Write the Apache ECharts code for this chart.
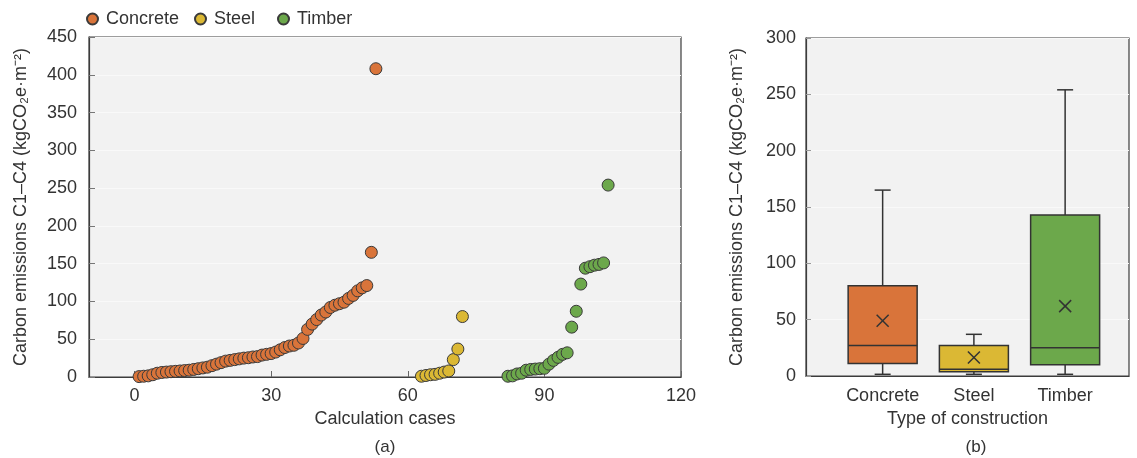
<!DOCTYPE html>
<html>
<head>
<meta charset="utf-8">
<script src="https://cdn.jsdelivr.net/npm/echarts@6/dist/echarts.min.js"></script>
<style>
html,body{margin:0;padding:0;background:#fff;}
#main{width:1137px;height:458px;}
</style>
</head>
<body>
<div id="main"></div>
<script>
// ---- Data ----
const seriesNames = ['Concrete', 'Steel', 'Timber'];

const concreteCases = [1,2,3,4,5,6,7,8,9,10,11,12,13,14,15,16,17,18,19,20,21,22,23,24,25,26,27,28,29,30,31,32,33,34,35,36,37,38,39,40,41,42,43,44,45,46,47,48,49,50,51,52,53];
const concreteValues = [0.5,1,1.5,3,5,6,6.5,7,7.5,8,8.5,9,10,11,12,13,15,17,19,21,22,23,24,25,25.5,26.5,27,29,30,31,33,36,39,41,42,45,51,63,70,76,82,86,92,95,97,99,104,108,114,118,121,165,408];

const steelCases = [63,64,65,66,67,68,69,70,71,72];
const steelValues = [1,2,3,3.5,5,6.5,8,23,37,80];

const timberCases = [82,83,84,85,86,87,88,89,90,91,92,93,94,95,96,97,98,99,100,101,102,103,104];
const timberValues = [1,1.5,4,5,9,10,10.5,11,11.5,17,22,26,30,32,66,87,123,144,146,148,149,151,254];

const scatterXTicks = [0, 30, 60, 90, 120];

// Box plot summary (per type of construction)
const boxCategories = ['Concrete', 'Steel', 'Timber'];
const boxPositions = [1, 2, 3];
const boxMin = [1.5, 1.5, 1.5];
const boxQ1 = [11, 3.8, 10];
const boxMedian = [27, 6, 25];
const boxQ3 = [80, 27, 143];
const boxMax = [165, 37, 254];
const boxMean = [49, 16.5, 62];

// ---- Styles ----
const colors = ['#D9743A', '#DBB834', '#6CA84B'];
const FONT = "'Liberation Sans', Arial, sans-serif";
const textColor = '#333';
const axisColor = '#3c3c3c';
const yName = 'Carbon emissions C1\u2013C4 (kgCO\u2082e\u00b7m\u207b\u00b2)';

function pairs(xs, ys) { return xs.map((x, i) => [x, ys[i]]); }

const chart = echarts.init(document.getElementById('main'), null, {renderer: 'canvas'});

const boxData = boxPositions.map((p, i) => [p, boxMin[i], boxQ1[i], boxMedian[i], boxQ3[i], boxMax[i], boxMean[i], i]);

function renderBox(params, api) {
  const x = api.value(0);
  const pMin = api.coord([x, api.value(1)]);
  const pQ1 = api.coord([x, api.value(2)]);
  const pMed = api.coord([x, api.value(3)]);
  const pQ3 = api.coord([x, api.value(4)]);
  const pMax = api.coord([x, api.value(5)]);
  const pMean = api.coord([x, api.value(6)]);
  const idx = api.value(7);
  const hw = 34.5, cw = 8, mx = 6;
  const cx = pQ1[0];
  const ls = {stroke: '#333', lineWidth: 1.5};
  return {
    type: 'group',
    children: [
      {type: 'line', shape: {x1: cx, y1: pQ3[1], x2: cx, y2: pMax[1]}, style: ls},
      {type: 'line', shape: {x1: cx, y1: pQ1[1], x2: cx, y2: pMin[1]}, style: ls},
      {type: 'line', shape: {x1: cx - cw, y1: pMax[1], x2: cx + cw, y2: pMax[1]}, style: ls},
      {type: 'line', shape: {x1: cx - cw, y1: pMin[1], x2: cx + cw, y2: pMin[1]}, style: ls},
      {type: 'rect', shape: {x: cx - hw, y: pQ3[1], width: 2 * hw, height: pQ1[1] - pQ3[1]},
        style: {fill: colors[idx], stroke: '#333', lineWidth: 1.5}},
      {type: 'line', shape: {x1: cx - hw, y1: pMed[1], x2: cx + hw, y2: pMed[1]}, style: ls},
      {type: 'line', shape: {x1: pMean[0] - mx, y1: pMean[1] - mx, x2: pMean[0] + mx, y2: pMean[1] + mx}, style: ls},
      {type: 'line', shape: {x1: pMean[0] - mx, y1: pMean[1] + mx, x2: pMean[0] + mx, y2: pMean[1] - mx}, style: ls}
    ]
  };
}

const legendBase = {
  top: 5, icon: 'circle', itemWidth: 11, itemHeight: 11,
  textStyle: {fontFamily: FONT, fontSize: 18, color: textColor, padding: [0, 0, 0, 3]}
};

const option = {
  backgroundColor: '#ffffff',
  textStyle: {fontFamily: FONT},
  legend: [
    Object.assign({}, legendBase, {left: 81, data: [seriesNames[0]]}),
    Object.assign({}, legendBase, {left: 189, data: [seriesNames[1]]}),
    Object.assign({}, legendBase, {left: 272, data: [seriesNames[2]]})
  ],
  grid: [
    {left: 89, top: 37, width: 592, height: 340, show: true, backgroundColor: '#f2f2f2', borderColor: axisColor, borderWidth: 1.2},
    {left: 806, top: 38, width: 323, height: 338, show: true, backgroundColor: '#f2f2f2', borderColor: axisColor, borderWidth: 1.2}
  ],
  xAxis: [
    {
      gridIndex: 0, type: 'value', min: -10, max: 120,
      name: 'Calculation cases', nameLocation: 'middle', nameGap: 32,
      nameTextStyle: {fontSize: 18, color: textColor, fontFamily: FONT},
      axisLine: {show: true, onZero: false, lineStyle: {color: axisColor, width: 1.2}},
      axisTick: {show: true, inside: true, length: 6, lineStyle: {color: '#666'}, customValues: scatterXTicks},
      axisLabel: {fontSize: 18, color: textColor, margin: 10, customValues: scatterXTicks, fontFamily: FONT},
      splitLine: {show: false}
    },
    {
      gridIndex: 1, type: 'value', min: 0.16, max: 3.7,
      name: 'Type of construction', nameLocation: 'middle', nameGap: 31,
      nameTextStyle: {fontSize: 18, color: textColor, fontFamily: FONT},
      axisLine: {show: true, onZero: false, lineStyle: {color: axisColor, width: 1.2}},
      axisTick: {show: false},
      axisLabel: {fontSize: 18, color: textColor, margin: 11, customValues: boxPositions, fontFamily: FONT,
        formatter: v => boxCategories[boxPositions.indexOf(Math.round(v))] || ''},
      splitLine: {show: false}
    }
  ],
  yAxis: [
    {
      gridIndex: 0, type: 'value', min: 0, max: 450, interval: 50,
      name: yName, nameLocation: 'middle', nameGap: 59,
      nameTextStyle: {fontSize: 18, color: textColor, fontFamily: FONT},
      axisLine: {show: true, onZero: false, lineStyle: {color: axisColor, width: 1.2}},
      axisTick: {show: true, inside: true, length: 6, lineStyle: {color: '#777'}},
      axisLabel: {fontSize: 18, color: textColor, margin: 12, fontFamily: FONT},
      splitLine: {show: true, lineStyle: {color: '#f9f9f9', width: 1}}
    },
    {
      gridIndex: 1, type: 'value', min: 0, max: 300, interval: 50,
      name: yName, nameLocation: 'middle', nameGap: 60,
      nameTextStyle: {fontSize: 18, color: textColor, fontFamily: FONT},
      axisLine: {show: true, onZero: false, lineStyle: {color: axisColor, width: 1.2}},
      axisTick: {show: true, inside: true, length: 5, lineStyle: {color: '#999'}},
      axisLabel: {fontSize: 18, color: textColor, margin: 10, fontFamily: FONT},
      splitLine: {show: true, lineStyle: {color: '#f9f9f9', width: 1}}
    }
  ],
  series: [
    {name: 'Concrete', type: 'scatter', xAxisIndex: 0, yAxisIndex: 0, symbolSize: 12, clip: false,
      itemStyle: {color: colors[0], borderColor: '#3a3a3a', borderWidth: 1, opacity: 1},
      data: pairs(concreteCases, concreteValues)},
    {name: 'Steel', type: 'scatter', xAxisIndex: 0, yAxisIndex: 0, symbolSize: 12, clip: false,
      itemStyle: {color: colors[1], borderColor: '#3a3a3a', borderWidth: 1, opacity: 1},
      data: pairs(steelCases, steelValues)},
    {name: 'Timber', type: 'scatter', xAxisIndex: 0, yAxisIndex: 0, symbolSize: 12, clip: false,
      itemStyle: {color: colors[2], borderColor: '#3a3a3a', borderWidth: 1, opacity: 1},
      data: pairs(timberCases, timberValues)},
    {name: 'box', type: 'custom', xAxisIndex: 1, yAxisIndex: 1, renderItem: renderBox,
      encode: {x: 0, y: [1, 2, 3, 4, 5, 6]}, data: boxData, silent: true}
  ],
  graphic: [
    {type: 'text', x: 385, y: 447, style: {text: '(a)', font: "17px " + FONT, fill: textColor, textAlign: 'center', textVerticalAlign: 'middle'}},
    {type: 'text', x: 976, y: 447, style: {text: '(b)', font: "17px " + FONT, fill: textColor, textAlign: 'center', textVerticalAlign: 'middle'}}
  ],
  animation: false
};

chart.setOption(option);
</script>
</body>
</html>
